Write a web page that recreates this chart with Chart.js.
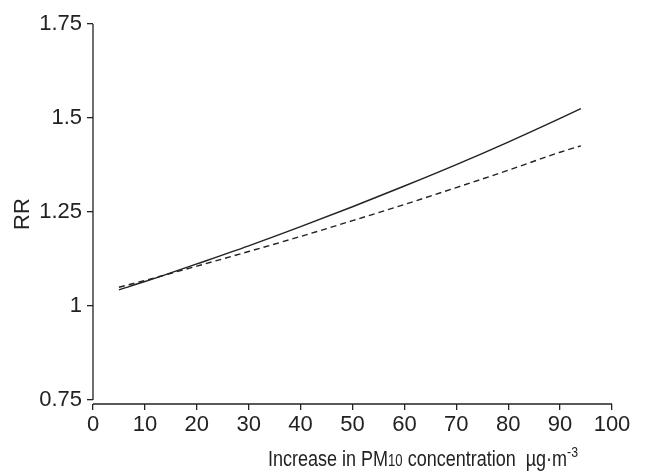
<!DOCTYPE html>
<html>
<head>
<meta charset="utf-8">
<script src="https://cdn.jsdelivr.net/npm/chart.js@4"></script>
<style>
  html, body { margin: 0; padding: 0; background: #fff; }
  #wrap { width: 657px; height: 474px; position: relative; }
</style>
</head>
<body>
<div id="wrap"><canvas id="rrChart"></canvas></div>
<script>
// values
var pm10 = [5, 10, 20, 30, 40, 50, 60, 70, 80, 90, 94];
var rrSolid = [1.043, 1.065, 1.112, 1.160, 1.211, 1.264, 1.319, 1.376, 1.436, 1.499, 1.525];
var rrDashed = [1.050, 1.068, 1.106, 1.145, 1.185, 1.227, 1.270, 1.315, 1.361, 1.409, 1.426];
var xTicks = [0, 10, 20, 30, 40, 50, 60, 70, 80, 90, 100];
var yTicks = [0.75, 1, 1.25, 1.5, 1.75];

var FONT = '"Liberation Sans", Arial, sans-serif';
var INK = '#222';

function pts(xs, ys) {
    return xs.map(function (x, i) { return { x: x, y: ys[i] }; });
}

// axis lines in R style (x axis sits a bit under the 0.75 tick)
var axisLines = {
    id: 'axisLines',
    afterDraw: function (chart) {
        var c = chart.ctx, xs = chart.scales.x, ys = chart.scales.y;
        var left = xs.getPixelForValue(0), right = xs.getPixelForValue(100);
        var top = ys.getPixelForValue(1.75), low = ys.getPixelForValue(0.75);
        var bottom = chart.chartArea.bottom;
        c.save();
        c.strokeStyle = INK;
        c.lineWidth = 1.3;
        c.beginPath();
        c.moveTo(left, top); c.lineTo(left, low);
        c.moveTo(left, bottom); c.lineTo(right, bottom);
        c.stroke();

        // x axis title with subscript and superscript, squeezed a little
        var parts = [
            { t: 'Increase in PM', s: 22, dy: 0 },
            { t: '10', s: 16, dy: 0 },
            { t: ' concentration  µg·m', s: 22, dy: 0 },
            { t: '-3', s: 15, dy: -9 }
        ];
        var w = 0;
        parts.forEach(function (p) {
            c.font = p.s + 'px ' + FONT;
            p.w = c.measureText(p.t).width;
            w += p.w;
        });
        var k = 310 / w;
        c.translate(268, 466);
        c.scale(k, 1);
        c.fillStyle = INK;
        c.textBaseline = 'alphabetic';
        c.textAlign = 'left';
        var x = 0;
        parts.forEach(function (p) {
            c.font = p.s + 'px ' + FONT;
            c.fillText(p.t, x, p.dy);
            x += p.w;
        });
        c.restore();
    }
};

var config = {
    type: 'scatter',
    data: {
        datasets: [{
            label: 'solid',
            data: pts(pm10, rrSolid),
            showLine: true,
            borderColor: '#222',
            borderWidth: 1.5,
            pointRadius: 0,
            cubicInterpolationMode: 'monotone'
        }, {
            label: 'dashed',
            data: pts(pm10, rrDashed),
            showLine: true,
            borderColor: '#222',
            borderWidth: 1.4,
            borderDash: [6, 4],
            pointRadius: 0,
            cubicInterpolationMode: 'monotone'
        }]
    },
    options: {
        responsive: true,
        maintainAspectRatio: false,
        animation: false,
        layout: { padding: { top: 24, right: 45, left: 0, bottom: 0 } },
        plugins: {
            legend: { display: false },
            tooltip: { enabled: false }
        },
        scales: {
            x: {
                type: 'linear',
                min: 0,
                max: 100,
                afterBuildTicks: function (s) { s.ticks = xTicks.map(function (v) { return { value: v }; }); },
                afterFit: function (s) { s.height = 70; },
                border: { display: false },
                grid: { drawOnChartArea: false, drawTicks: true, tickLength: 6, color: INK, lineWidth: 1.3 },
                ticks: { color: INK, padding: 2, maxRotation: 0, font: { family: FONT, size: 22 },
                    callback: function (v) { return String(v); } }
            },
            y: {
                type: 'linear',
                min: 0.7394,
                max: 1.75,
                afterBuildTicks: function (s) { s.ticks = yTicks.map(function (v) { return { value: v }; }); },
                afterFit: function (s) { s.width = 93; },
                border: { display: false },
                grid: { drawOnChartArea: false, drawTicks: true, tickLength: 6, color: INK, lineWidth: 1.3 },
                ticks: { color: INK, padding: 5, font: { family: FONT, size: 22 },
                    callback: function (v) { return String(v); } },
                title: { display: true, text: 'RR', color: INK, padding: { top: 10, bottom: 0 }, font: { family: FONT, size: 22 } }
            }
        }
    },
    plugins: [axisLines]
};

var rrChart = new Chart(document.getElementById('rrChart'), config);
</script>
</body>
</html>
